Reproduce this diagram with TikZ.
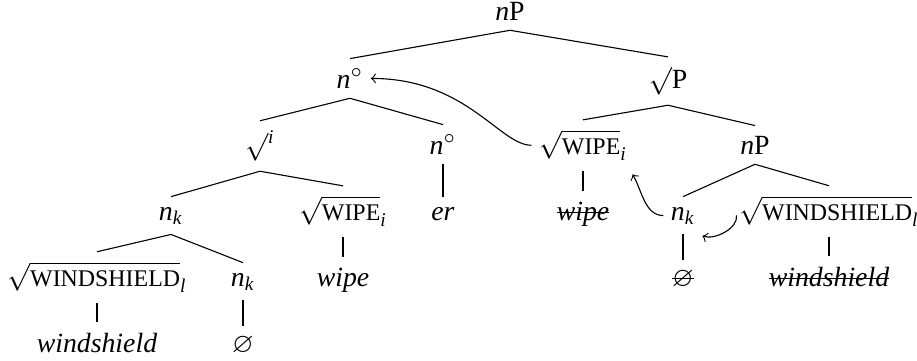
\documentclass[tikz,border=0pt]{standalone}
\usepackage{amsmath}
\usepackage{amssymb}
\usepackage{fontspec}
\setmainfont{Liberation Serif}
\usetikzlibrary{positioning}
\tikzset{lbl/.style = {anchor=base, inner xsep=1pt, inner ysep=3.5pt},
         mv/.style = {->, shorten >=1.5pt, shorten <=1.5pt}}
\newsavebox{\delbox}
\newcommand{\cat}[1]{\textit{#1}}
\newcommand{\rt}[2]{$\sqrt{\text{\fontsize{8.6}{10}\selectfont #1}}_{\textit{#2}}$}
\newcommand{\del}[1]{\sbox{\delbox}{#1}%
  \rlap{\raisebox{.25em}{\rule{\wd\delbox}{0.4pt}}}\usebox{\delbox}}

\begin{document}
\begin{tikzpicture}[x=0.36pt, y=-0.36pt]
    \useasboundingbox (0, 0) rectangle (917, 360);

    \node [lbl] (root) at (510, 20) {\cat{n}P};

    \node [lbl] (nzero) at (350, 88) {\cat{n}$^\circ$};
    \node [lbl] (sqrtP) at (668, 88) {$\surd$P};

    \node [lbl] (sqrti) at (260, 154) {$\surd$\textsuperscript{\cat{i}}};
    \node [lbl] (nzerob) at (443, 154) {\cat{n}$^\circ$};
    \node [lbl] (wipeR) at (583, 154) {\rt{WIPE}{i}};
    \node [lbl] (nPR) at (755, 154) {\cat{n}P};

    \node [lbl] (nkA) at (171, 220) {\cat{n}\textsubscript{\cat{k}}};
    \node [lbl] (wipeL) at (343, 220) {\rt{WIPE}{i}};
    \node [lbl] (er) at (443, 220) {\cat{er}};
    \node [lbl] (wipeS) at (583, 220) {\del{\cat{wipe}}};
    \node [lbl] (nkB) at (683, 220) {\cat{n}\textsubscript{\cat{k}}};
    \node [lbl] (windR) at (829, 220) {\rt{WINDSHIELD}{l}};

    \node [lbl] (windL) at (97, 286) {\rt{WINDSHIELD}{l}};
    \node [lbl] (nkC) at (243, 286) {\cat{n}\textsubscript{\cat{k}}};
    \node [lbl] (wipeLw) at (343, 286) {\cat{wipe}};
    \node [lbl] (nullS) at (683, 286) {\del{$\varnothing$}};
    \node [lbl] (windS) at (829, 286) {\del{\cat{windshield}}};

    \node [lbl] (windLw) at (97, 352) {\cat{windshield}};
    \node [lbl] (nullL) at (243, 352) {$\varnothing$};

    \foreach \p/\c in {root/nzero, root/sqrtP, nzero/sqrti, nzero/nzerob,
                       sqrtP/wipeR, sqrtP/nPR, sqrti/nkA, sqrti/wipeL,
                       nzerob/er, wipeR/wipeS, nPR/nkB, nPR/windR,
                       nkA/windL, nkA/nkC, wipeL/wipeLw, nkB/nullS,
                       windR/windS, windL/windLw, nkC/nullL}
        \draw (\p.south) -- (\c.north);

    % movement
    \draw [mv] (wipeR.west) to [out=180, in=0, out looseness=0.5, in looseness=1.4] (nzero.east);
    \draw [mv] (nkB.west) to [out=180, in=-60] (wipeR.south east);
    \draw [mv] (windR.west) to [out=-80, in=-20] (nkB.south east);
\end{tikzpicture}
\end{document}
